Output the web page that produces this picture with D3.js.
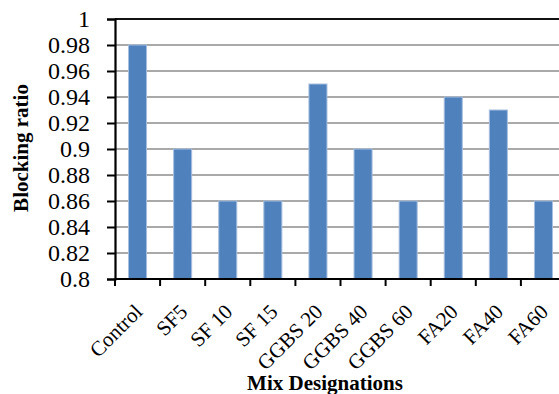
<!DOCTYPE html>
<html>
<head>
<meta charset="utf-8">
<script src="https://cdn.jsdelivr.net/npm/d3@7/dist/d3.min.js"></script>
<style>
  html, body { margin: 0; padding: 0; background: #fff; }
  svg { display: block; }
</style>
</head>
<body>
<svg id="chart" width="559" height="394"></svg>
<script>
// Blocking ratio per mix design
const categories = ["Control", "SF5", "SF 10", "SF 15", "GGBS 20", "GGBS 40", "GGBS 60", "FA20", "FA40", "FA60"];
const blockingRatio = [0.98, 0.90, 0.86, 0.86, 0.95, 0.90, 0.86, 0.94, 0.93, 0.86];
const yTicks = [0.8, 0.82, 0.84, 0.86, 0.88, 0.9, 0.92, 0.94, 0.96, 0.98, 1];
const yTickLabels = ["0.8", "0.82", "0.84", "0.86", "0.88", "0.9", "0.92", "0.94", "0.96", "0.98", "1"];

const SERIF = '"Liberation Serif", "Times New Roman", serif';
const svg = d3.select("#chart");
const plot = { left: 115, right: 566, top: 19, bottom: 279 };

const x = d3.scaleBand()
  .domain(categories)
  .range([plot.left, plot.right])
  .paddingInner(0.6)
  .paddingOuter(0.3);

const y = d3.scaleLinear()
  .domain([0.8, 1])
  .range([plot.bottom, plot.top]);

// horizontal gridlines
svg.append("g")
  .selectAll("line")
  .data(yTicks.filter(t => t > 0.8 && t < 1))
  .join("line")
  .attr("x1", plot.left)
  .attr("x2", plot.right)
  .attr("y1", d => y(d))
  .attr("y2", d => y(d))
  .attr("stroke", "#8c8c8c")
  .attr("stroke-width", 1.6);

// top border line
svg.append("line")
  .attr("x1", plot.left).attr("x2", plot.right)
  .attr("y1", y(1)).attr("y2", y(1))
  .attr("stroke", "#111").attr("stroke-width", 2);

// bars
svg.append("g")
  .selectAll("rect")
  .data(categories.map((c, i) => ({ c, v: blockingRatio[i] })))
  .join("rect")
  .attr("x", d => x(d.c))
  .attr("width", x.bandwidth())
  .attr("y", d => y(d.v))
  .attr("height", d => y(0.8) - y(d.v))
  .attr("fill", "#4f81bd")
  .attr("stroke", "#a7bfe0")
  .attr("stroke-width", 1);

// y axis
const yAxis = d3.axisLeft(y)
  .tickValues(yTicks)
  .tickFormat((d, i) => yTickLabels[i])
  .tickSize(8)
  .tickPadding(17);

const gy = svg.append("g")
  .attr("transform", `translate(${plot.left},0)`)
  .call(yAxis);
gy.select(".domain").attr("stroke", "#000").attr("stroke-width", 2.2);
gy.selectAll(".tick line").attr("stroke", "#000").attr("stroke-width", 2);
gy.selectAll(".tick text")
  .style("font-family", SERIF)
  .style("font-size", "24px")
  .attr("fill", "#000");

// x axis with boundary ticks between categories
const boundaries = d3.range(categories.length + 1).map(i => plot.left + i * x.step());
const gx = svg.append("g");
gx.append("line")
  .attr("x1", plot.left).attr("x2", plot.right)
  .attr("y1", plot.bottom).attr("y2", plot.bottom)
  .attr("stroke", "#000").attr("stroke-width", 2.2);
gx.selectAll("line.tk")
  .data(boundaries)
  .join("line")
  .attr("class", "tk")
  .attr("x1", d => d).attr("x2", d => d)
  .attr("y1", plot.bottom).attr("y2", plot.bottom + 7)
  .attr("stroke", "#000").attr("stroke-width", 2);

gx.selectAll("text")
  .data(categories)
  .join("text")
  .attr("transform", d => `translate(${x(d) + x.bandwidth() / 2 + 6},${plot.bottom + 34}) rotate(-45)`)
  .attr("text-anchor", "end")
  .style("font-family", SERIF)
  .style("font-size", "21px")
  .attr("fill", "#000")
  .text(d => d);

// axis titles
svg.append("text")
  .attr("transform", "translate(28,148) rotate(-90)")
  .attr("text-anchor", "middle")
  .style("font-family", SERIF)
  .style("font-size", "21px")
  .style("font-weight", "bold")
  .attr("fill", "#000")
  .text("Blocking ratio");

svg.append("text")
  .attr("x", 325)
  .attr("y", 390)
  .attr("text-anchor", "middle")
  .style("font-family", SERIF)
  .style("font-size", "21px")
  .style("font-weight", "bold")
  .attr("fill", "#000")
  .text("Mix Designations");
</script>
</body>
</html>
